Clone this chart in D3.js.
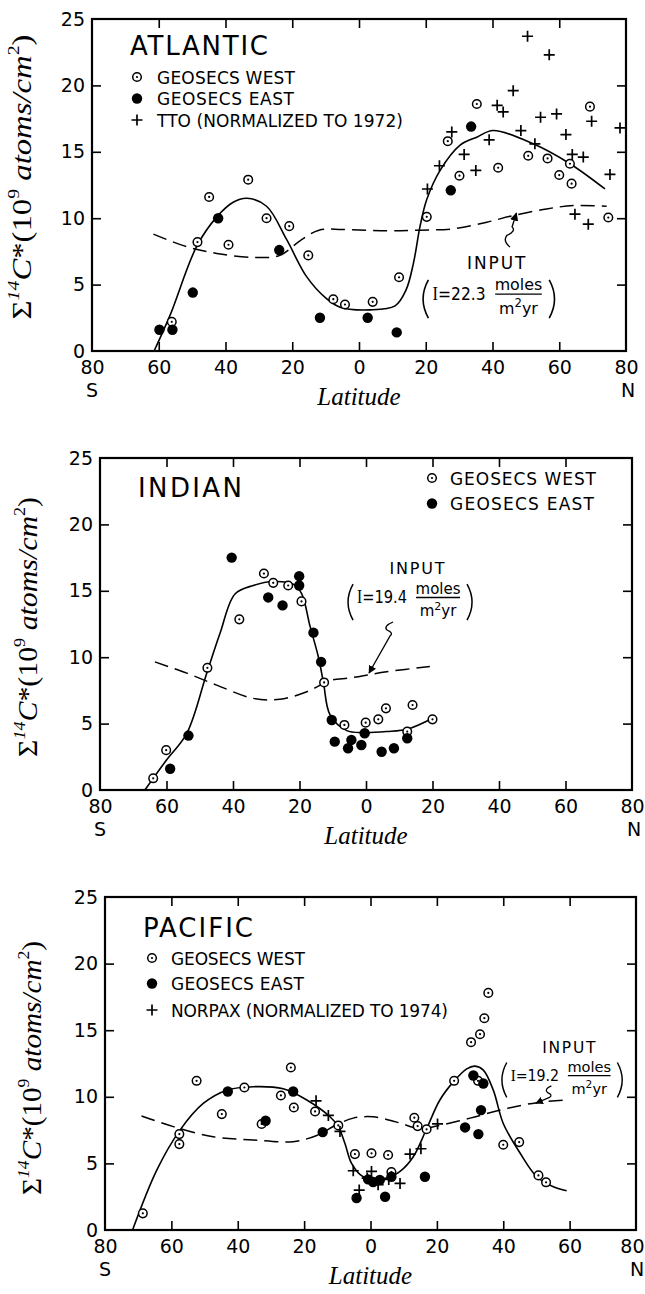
<!DOCTYPE html>
<html>
<head>
<meta charset="utf-8">
<script src="https://cdn.jsdelivr.net/npm/d3@7"></script>
<style>
  body { margin: 0; background: #fff; }
  svg { display: block; }
</style>
</head>
<body>
<svg id="fig" width="645" height="1294"></svg>
<script>
// Water-column bomb 14C inventory vs latitude, three ocean basins.
// Latitude: negative = south, positive = north. Values in 10^9 atoms/cm^2.

const latTicks = [-80, -60, -40, -20, 0, 20, 40, 60, 80];
const latTickLabels = ["80", "60", "40", "20", "0", "20", "40", "60", "80"];
const valueTicks = [0, 5, 10, 15, 20, 25];

// ---- Atlantic ----
const atlanticWest = [[-56.1,2.2],[-48.4,8.2],[-44.9,11.6],[-39.1,8.0],[-33.2,12.9],[-27.7,10.0],[-20.9,9.4],[-15.2,7.2],[-7.7,3.9],[-4.2,3.5],[4.1,3.7],[12,5.55],[20.3,10.1],[26.6,15.8],[30.1,13.2],[35.3,18.6],[41.7,13.8],[50.7,14.7],[56.5,14.5],[60,13.25],[63.2,14.1],[63.7,12.6],[69.2,18.4],[74.7,10.05]];
const atlanticEast = [[-59.8,1.6],[-55.9,1.6],[-49.8,4.4],[-42.2,10.0],[-23.9,7.6],[-11.7,2.5],[2.6,2.5],[11.3,1.4],[27.5,12.1],[33.6,16.9]];
const atlanticTTO = [[20.5,12.2],[24.1,13.95],[27.8,16.5],[31.5,14.8],[35,13.6],[39,15.9],[41.4,18.5],[43.2,18.0],[46.2,19.6],[50.5,23.7],[48.5,16.6],[52.7,15.6],[54.4,17.6],[57,22.3],[59.2,17.85],[62,16.3],[63.9,14.8],[67.2,14.6],[64.7,10.3],[68.7,9.55],[69.7,17.3],[75.2,13.3],[78.2,16.8]];
const atlanticFit = [[-61.4,0],[-56.6,2.7],[-48.6,7.9],[-42.6,10.1],[-37.7,11.2],[-33.6,11.5],[-27.7,10.9],[-21.7,8.4],[-15.7,5.6],[-10,4.0],[-5.7,3.3],[3.3,3.1],[10.8,3.4],[14.1,4.6],[16.3,6.6],[18.3,9.4],[20.3,11.4],[24.3,13.6],[30.3,15.5],[35.3,16.1],[40.2,16.6],[52.2,15.6],[63.2,14.1],[73.7,12.2]];
const atlanticInput = [[-61.6,8.8],[-51.6,7.85],[-42.6,7.35],[-31.7,7.05],[-23.7,7.2],[-17.7,8.3],[-12,9.1],[-5,9.15],[8.3,9.05],[18.3,9.1],[28.3,9.2],[38.3,9.7],[46.2,10.2],[56.2,10.7],[64.2,10.95],[74.2,10.9]];

// ---- Indian ----
const indianWest = [[-64,0.88],[-60.1,3.0],[-47.7,9.2],[-38.1,12.85],[-30.7,16.3],[-27.9,15.6],[-23.4,15.4],[-19.4,14.2],[-12.6,8.1],[-6.5,4.9],[-0.1,5.07],[3.7,5.32],[6.0,6.15],[14.0,6.4],[12.4,4.4],[20,5.32]];
const indianEast = [[-58.9,1.6],[-53.4,4.1],[-40.4,17.5],[-29.4,14.5],[-25.1,13.9],[-20.1,16.1],[-20.1,15.4],[-15.8,11.85],[-13.5,9.65],[-10.3,5.27],[-9.4,3.64],[-5.4,3.14],[-4.4,3.77],[-1.4,3.39],[-0.4,4.27],[4.7,2.88],[8.4,3.14],[12.4,3.9]];
const indianFit = [[-66.5,0],[-60,2.26],[-53.9,4.27],[-47.9,8.8],[-43.9,11.8],[-39.4,14.76],[-33.9,15.4],[-27.9,15.7],[-21.9,15.5],[-19.4,14.8],[-16.8,12.3],[-14.3,10.0],[-12.8,8.1],[-10.8,5.65],[-5.8,4.47],[-0.8,4.32],[6.2,4.4],[12.7,4.6],[20,5.4]];
const indianInput = [[-63.5,9.65],[-53.9,8.8],[-44.9,7.9],[-33.9,6.9],[-25.9,6.83],[-17.8,7.4],[-13.8,7.9],[-11.8,8.2],[-3.8,8.48],[6.2,8.9],[19.2,9.3]];

// ---- Pacific ----
const pacificWest = [[-68.6,1.25],[-57.6,7.2],[-57.6,6.45],[-52.4,11.2],[-44.8,8.7],[-38,10.7],[-32.8,7.96],[-27,10.1],[-24,12.2],[-23.1,9.2],[-16.7,8.9],[-9.7,7.85],[-4.7,5.7],[0.3,5.76],[5.3,5.63],[6.3,4.35],[13.2,8.43],[14.2,7.8],[16.9,7.56],[25.2,11.2],[30.3,14.1],[33,14.7],[34.3,15.9],[35.5,17.8],[32.4,11.2],[40,6.4],[44.8,6.6],[50.6,4.1],[52.9,3.58]];
const pacificEast = [[-43,10.4],[-31.6,8.2],[-23.3,10.4],[-14.4,7.35],[-4.2,2.4],[-0.7,3.8],[0.8,3.6],[2.8,3.75],[4.4,2.5],[6.3,4.0],[16.4,4.0],[28.5,7.7],[31,11.6],[32.5,7.2],[33.3,9.0],[34,11.0]];
const pacificNorpax = [[-16.4,9.7],[-12.7,8.6],[-9.2,7.4],[-5.2,4.45],[-3.4,3.0],[0.3,4.4],[-1.0,3.9],[2.3,3.4],[5.5,3.8],[8.9,3.5],[11.9,5.7],[15.2,6.1],[20.2,7.96]];
const pacificFit = [[-71.7,0],[-64.4,4.5],[-57.4,7.5],[-50.4,9.5],[-43.3,10.5],[-35.3,10.76],[-26.3,10.6],[-19.2,9.76],[-12.2,8.5],[-9.7,7.76],[-7.7,6.5],[-5.7,5.0],[-2.2,4.0],[4.9,3.9],[8.9,4.4],[12.9,5.5],[16.9,7.6],[20.9,9.76],[24.9,11.1],[29,12.1],[31.5,12.3],[34,12.0],[37,10.5],[40,8.0],[45.1,5.76],[50.1,4.0],[55.1,3.25],[59.1,2.95]];
const pacificInput = [[-69,8.56],[-59.4,7.76],[-47.4,7.0],[-35.3,6.76],[-23.3,6.63],[-16.2,7.1],[-10.2,7.9],[-5.2,8.4],[0.8,8.5],[7.9,8.1],[15,7.6],[19.9,7.8],[30,8.4],[40,9.06],[50.1,9.56],[59.1,9.76]];

const SANS = "'DejaVu Sans', sans-serif";
const SERIF = "'Liberation Serif', 'DejaVu Serif', serif";
const PAGE_W = 645;

const panels = [
  {
    title: "ATLANTIC", box: {l: 92, r: 626, t: 19, b: 351},
    west: atlanticWest, east: atlanticEast, extra: atlanticTTO,
    fit: atlanticFit, input: atlanticInput,
    legend: {titleX: 130, titleY: 55, titleW: 138, symX: 137, textX: 157, rows: [77, 98.5, 120],
             labels: ["GEOSECS WEST", "GEOSECS EAST", "TTO (NORMALIZED TO 1972)"], widths: [138, 137, 246]},
    note: {lat: 19.2, val: 3.84, label: "22.3", scale: 1.06,
           arrow: [[82, -50], [79, -61], [84, -69], [88, -82]]},
    ylab: {x: 25, y: 177, len: 285}
  },
  {
    title: "INDIAN", box: {l: 100, r: 632, t: 458, b: 790},
    west: indianWest, east: indianEast, extra: null,
    fit: indianFit, input: indianInput,
    legend: {titleX: 138, titleY: 497, titleW: 104, symX: 432, textX: 450, rows: [478, 503.5],
             labels: ["GEOSECS WEST", "GEOSECS EAST"], widths: [146, 144]},
    note: {lat: -5.4, val: 14.08, label: "19.4", scale: 1.0,
           arrow: [[45, 19], [39, 27], [42, 33], [21, 70]]},
    ylab: {x: 31, y: 627, len: 260}
  },
  {
    title: "PACIFIC", box: {l: 105, r: 636, t: 897, b: 1230},
    west: pacificWest, east: pacificEast, extra: pacificNorpax,
    fit: pacificFit, input: pacificInput,
    legend: {titleX: 143, titleY: 937, titleW: 110, symX: 152, textX: 171, rows: [958, 983.5, 1010],
             labels: ["GEOSECS WEST", "GEOSECS EAST", "NORPAX (NORMALIZED TO 1974)"], widths: [134, 133, 277]},
    note: {lat: 39.6, val: 11.19, label: "19.2", scale: 0.97,
           arrow: [[51, 5], [47, 12], [49, 17], [35, 23]]},
    ylab: {x: 35, y: 1068, len: 254}
  }
];

const svg = d3.select("#fig");

svg.append("defs").append("marker")
  .attr("id", "head").attr("viewBox", "0 0 10 10")
  .attr("refX", 9).attr("refY", 5)
  .attr("markerWidth", 8).attr("markerHeight", 8)
  .attr("markerUnits", "userSpaceOnUse")
  .attr("orient", "auto")
  .append("path").attr("d", "M0,0 L10,5 L0,10 Z").attr("fill", "#000");

function drawOpen(sel, cx, cy) {
  sel.append("circle").attr("cx", cx).attr("cy", cy).attr("r", 4.3)
    .attr("fill", "#fff").attr("stroke", "#000").attr("stroke-width", 1.5);
  sel.append("circle").attr("cx", cx).attr("cy", cy).attr("r", 1.1).attr("fill", "#000");
}
function drawFilled(sel, cx, cy) {
  sel.append("circle").attr("cx", cx).attr("cy", cy).attr("r", 5.2).attr("fill", "#000");
}
function drawCross(sel, cx, cy) {
  const s = 5.5;
  sel.append("path").attr("d", `M${cx - s},${cy}H${cx + s}M${cx},${cy - s}V${cy + s}`)
    .attr("stroke", "#000").attr("stroke-width", 1.7).attr("fill", "none");
}

function drawPanel(p) {
  const {l, r, t, b} = p.box;
  const x = d3.scaleLinear().domain([-80, 80]).range([l, r]);
  const y = d3.scaleLinear().domain([0, 25]).range([b, t]);
  const g = svg.append("g");

  // axes: inward ticks on all four sides, labels on bottom and left
  const inner = d => Math.abs(d) !== 80;
  const innerY = d => d !== 0 && d !== 25;

  const bottom = g.append("g").attr("transform", `translate(0,${b})`)
    .call(d3.axisBottom(x).tickValues(latTicks).tickSize(-9).tickPadding(10)
      .tickFormat((d, i) => latTickLabels[i]));
  const top = g.append("g").attr("transform", `translate(0,${t})`)
    .call(d3.axisTop(x).tickValues(latTicks.filter(inner)).tickSize(-9).tickFormat(""));
  const left = g.append("g").attr("transform", `translate(${l},0)`)
    .call(d3.axisLeft(y).tickValues(valueTicks).tickSize(-9).tickPadding(7));
  const right = g.append("g").attr("transform", `translate(${r},0)`)
    .call(d3.axisRight(y).tickValues(valueTicks.filter(innerY)).tickSize(-9).tickFormat(""));

  [bottom, top, left, right].forEach(a => {
    a.select(".domain").remove();
    a.selectAll(".tick line").attr("stroke", "#000").attr("stroke-width", 1.6);
    a.selectAll("text").attr("font-family", SANS).attr("font-size", 19).attr("fill", "#000");
  });
  bottom.selectAll(".tick").filter(d => !inner(d)).select("line").remove();
  left.selectAll(".tick").filter(d => !innerY(d)).select("line").remove();
  // keep the last latitude label inside the page
  bottom.selectAll(".tick").filter(d => d === 80).select("text")
    .attr("text-anchor", x(80) + 12 > PAGE_W ? "end" : "middle")
    .attr("x", x(80) + 12 > PAGE_W ? PAGE_W - 1 - x(80) : 0);

  // hemisphere markers
  g.append("text").attr("x", l).attr("y", b + 46).attr("text-anchor", "middle")
    .attr("font-family", SANS).attr("font-size", 19).text("S");
  g.append("text").attr("x", Math.min(r + 2, PAGE_W - 8)).attr("y", b + 46).attr("text-anchor", "middle")
    .attr("font-family", SANS).attr("font-size", 19).text("N");

  // frame
  g.append("rect").attr("x", l).attr("y", t).attr("width", r - l).attr("height", b - t)
    .attr("fill", "none").attr("stroke", "#000").attr("stroke-width", 2.2);

  // x-axis title
  g.append("text").attr("x", (l + r) / 2).attr("y", b + 54).attr("text-anchor", "middle")
    .attr("font-family", SERIF).attr("font-style", "italic").attr("font-size", 25).text("Latitude");

  // y-axis title
  const yl = g.append("text")
    .attr("transform", `translate(${p.ylab.x},${p.ylab.y}) rotate(-90)`)
    .attr("text-anchor", "middle").attr("dominant-baseline", "middle")
    .attr("font-family", SERIF).attr("font-size", 28)
    .attr("textLength", p.ylab.len).attr("lengthAdjust", "spacingAndGlyphs");
  yl.append("tspan").text("\u03A3");
  yl.append("tspan").attr("font-size", 17).attr("font-style", "italic").attr("dy", -10).text("14");
  yl.append("tspan").attr("font-style", "italic").attr("dy", 10).text("C");
  yl.append("tspan").text("*(10");
  yl.append("tspan").attr("font-size", 17).attr("dy", -10).text("9");
  yl.append("tspan").attr("font-style", "italic").attr("dy", 10).text(" atoms/cm");
  yl.append("tspan").attr("font-size", 17).attr("dy", -10).text("2");
  yl.append("tspan").attr("dy", 10).text(")");

  // input function (dashed) and model fit (solid)
  const line = d3.line().x(d => x(d[0])).y(d => y(d[1])).curve(d3.curveCatmullRom.alpha(0.5));
  g.append("path").attr("d", line(p.input)).attr("fill", "none").attr("stroke", "#000")
    .attr("stroke-width", 1.5).attr("stroke-dasharray", "14,7");
  g.append("path").attr("d", line(p.fit)).attr("fill", "none").attr("stroke", "#000")
    .attr("stroke-width", 1.6);

  // observations
  const pts = g.append("g");
  p.west.forEach(d => drawOpen(pts, x(d[0]), y(d[1])));
  p.east.forEach(d => drawFilled(pts, x(d[0]), y(d[1])));
  if (p.extra) p.extra.forEach(d => drawCross(pts, x(d[0]), y(d[1])));

  // title and legend
  const lg = p.legend;
  g.append("text").attr("x", lg.titleX).attr("y", lg.titleY)
    .attr("font-family", SANS).attr("font-size", 26)
    .attr("textLength", lg.titleW).attr("lengthAdjust", "spacing").text(p.title);
  const symbols = [drawOpen, drawFilled, drawCross];
  lg.labels.forEach((lab, i) => {
    const cy = lg.rows[i];
    symbols[i](g, lg.symX, cy);
    g.append("text").attr("x", lg.textX).attr("y", cy + 6.5)
      .attr("font-family", SANS).attr("font-size", 17)
      .attr("textLength", lg.widths[i]).attr("lengthAdjust", "spacing").text(lab);
  });

  // INPUT annotation with arrow to the dashed curve
  const n = p.note;
  const ng = g.append("g")
    .attr("transform", `translate(${x(n.lat)},${y(n.val)}) scale(${n.scale})`)
    .attr("font-family", SANS);
  ng.append("text").attr("x", 69).attr("y", -29).attr("text-anchor", "middle")
    .attr("font-size", 16).attr("textLength", 55).attr("lengthAdjust", "spacing").text("INPUT");
  ng.append("path").attr("d", "M5,-19 Q-5,-1 5,17").attr("fill", "none").attr("stroke", "#000").attr("stroke-width", 1.5);
  ng.append("path").attr("d", "M119,-19 Q129,-1 119,17").attr("fill", "none").attr("stroke", "#000").attr("stroke-width", 1.5);
  const eq = ng.append("text").attr("x", 9).attr("y", 0).attr("font-size", 17)
    .attr("textLength", 50).attr("lengthAdjust", "spacingAndGlyphs");
  eq.append("tspan").attr("font-family", SERIF).attr("font-size", 18).text("I");
  eq.append("tspan").text("=" + n.label);
  ng.append("text").attr("x", 90).attr("y", -9).attr("text-anchor", "middle").attr("font-size", 15).text("moles");
  ng.append("line").attr("x1", 68).attr("x2", 112).attr("y1", -5.5).attr("y2", -5.5)
    .attr("stroke", "#000").attr("stroke-width", 1.3);
  const den = ng.append("text").attr("x", 90).attr("y", 13).attr("text-anchor", "middle").attr("font-size", 15);
  den.append("tspan").text("m");
  den.append("tspan").attr("font-size", 11).attr("dy", -6).text("2");
  den.append("tspan").attr("dy", 6).text("yr");
  const a = n.arrow;
  ng.append("path")
    .attr("d", `M${a[0][0]},${a[0][1]} Q${a[1][0] - 4},${(a[0][1] + a[1][1]) / 2} ${a[1][0]},${a[1][1]} Q${a[2][0] + 4},${(a[1][1] + a[2][1]) / 2} ${a[2][0]},${a[2][1]} L${a[3][0]},${a[3][1]}`)
    .attr("fill", "none").attr("stroke", "#000").attr("stroke-width", 1.3)
    .attr("marker-end", "url(#head)");
}

panels.forEach(drawPanel);
</script>
</body>
</html>
